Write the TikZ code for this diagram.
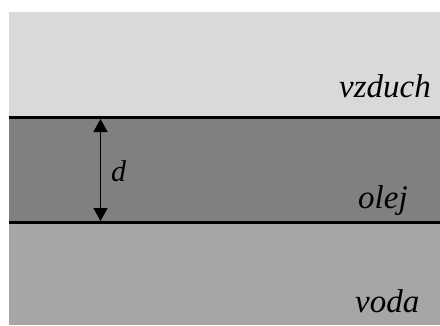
\documentclass[tikz,border=0pt]{standalone}
\usepackage{fontspec}
\setmainfont{Liberation Serif}
\usetikzlibrary{arrows.meta}
\definecolor{airgray}{HTML}{D9D9D9}
\definecolor{oilgray}{HTML}{808080}
\definecolor{watergray}{HTML}{A6A6A6}
\tikzset{
  layerlabel/.style={inner sep=0pt, anchor=base west, font=\fontsize{33}{38}\selectfont\itshape},
  interface/.style={line width=3pt},
  thickness/.style={line width=1.5pt, {Triangle[length=13pt,width=14pt]}-{Triangle[length=13pt,width=14pt]}, shorten <=1.5pt, shorten >=1.5pt}
}
\begin{document}
\begin{tikzpicture}[x=1pt,y=1pt]
  \useasboundingbox (0,0) rectangle (440,325);
  \fill[white] (0,0) rectangle (440,325);
  % the three layers
  \fill[airgray] (9,207.5) rectangle (440,313);
  \fill[oilgray] (9,102.5) rectangle (440,207.5);
  \fill[watergray] (9,0) rectangle (440,102.5);
  % interfaces
  \coordinate (topL) at (9,207.5);
  \coordinate (topR) at (440,207.5);
  \coordinate (botL) at (9,102.5);
  \coordinate (botR) at (440,102.5);
  \draw[interface] (topL) -- (topR);
  \draw[interface] (botL) -- (botR);
  % thickness marker
  \coordinate (dTop) at (100.5,207.5);
  \coordinate (dBot) at (100.5,102.5);
  \draw[thickness] (dTop) -- (dBot);
  \node[layerlabel, font=\fontsize{30}{34}\selectfont\itshape] (d) at (111,144) {d};
  % layer names
  \node[layerlabel] (air) at (339,228) {vzduch};
  \node[layerlabel] (oil) at (358,117) {olej};
  \node[layerlabel] (water) at (355,13) {voda};
\end{tikzpicture}
\end{document}
